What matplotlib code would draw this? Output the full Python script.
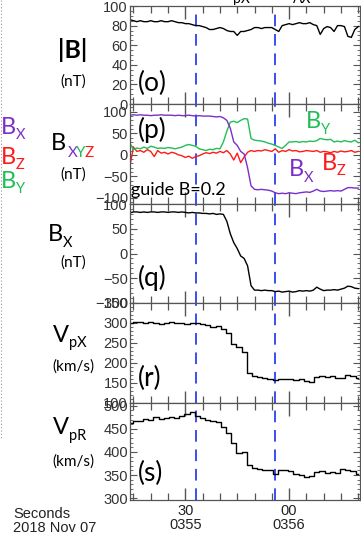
import numpy as np
import matplotlib
matplotlib.use("Agg")
import matplotlib.pyplot as plt
from matplotlib.ticker import MultipleLocator, FixedLocator
from matplotlib.lines import Line2D

# time in seconds after 03:55:00 UT
t_mag = np.arange(14, 81)

b_tot = [86, 85, 84, 85, 84, 84, 85, 84, 84, 85, 84, 84, 85, 84, 83, 83, 82, 82, 81, 80,
         80, 79, 78, 76, 76, 77, 78, 77, 75, 74, 74, 70, 74, 74, 75, 76, 78, 78, 77, 78,
         78, 78, 76, 74, 80, 81, 82, 81, 82, 83, 82, 82, 83, 81, 80, 71, 77, 79, 78, 74,
         80, 80, 79, 69, 68, 76, 79]

bx_p = [92, 93, 92, 93, 92, 92, 91, 92, 92, 93, 92, 92, 92, 91, 92, 91, 91, 92, 91, 90,
        91, 90, 90, 90, 89, 88, 89, 86, 80, 62, 30, 22, 8, 2, -30, -72, -80, -81, -80, -81,
        -82, -84, -88, -90, -89, -90, -88, -89, -90, -88, -87, -86, -87, -84, -80, -84, -85, -84,
        -83, -84, -83, -84, -80, -76, -76, -77, -77]

by_p = [27, 12, 16, 14, 18, 15, 20, 18, 15, 16, 15, 17, 16, 14, 16, 18, 22, 24, 22, 20,
        14, 12, 10, 13, 12, 15, 14, 30, 55, 76, 78, 75, 80, 84, 83, 38, 34, 33, 32, 30,
        27, 25, 22, 18, 15, 22, 30, 30, 31, 29, 31, 30, 32, 31, 33, 38, 36, 35, 36, 30,
        32, 30, 33, 31, 30, 34, 28]

bz_p = [-25, 18, 8, 10, 6, 12, 8, -4, 10, 4, 6, 2, 6, 4, 0, -2, -6, -3, -8, -4,
        -2, 2, 5, 3, 6, 4, 8, 5, 10, 2, -12, 4, -18, -5, 6, 10, 8, 10, 9, 12,
        10, 8, 14, 6, 10, 8, 12, 9, 10, 7, 8, 10, 9, 8, 10, 6, 8, 7, 5, 8,
        6, 9, 7, 8, 10, 6, 8]

bx_q = [82, 84, 84, 83, 84, 83, 84, 84, 83, 84, 84, 83, 84, 84, 83, 84, 83, 82, 83, 82,
        82, 81, 81, 80, 81, 79, 80, 79, 65, 40, 22, 10, -5, -10, -25, -65, -74, -74, -75, -74,
        -75, -75, -77, -76, -78, -77, -76, -78, -77, -75, -76, -75, -76, -74, -68, -72, -75, -74,
        -74, -73, -74, -72, -70, -66, -67, -70, -71]

# ion moments, 1.5 s cadence
t_ion = np.arange(14.0, 80.1, 1.5)

vpx = [301, 303, 302, 300, 302, 299, 297, 300, 302, 299, 300, 298, 301, 300, 298, 296,
       290, 293, 285, 275, 248, 240, 228, 175, 168, 166, 163, 160, 157, 160, 159, 161,
       158, 160, 155, 153, 166, 168, 166, 168, 162, 162, 171, 167, 163]

vpr = [462, 466, 467, 471, 470, 475, 472, 474, 476, 473, 478, 482, 486, 478, 474, 470,
       466, 464, 455, 440, 420, 398, 400, 372, 366, 364, 362, 360, 353, 360, 362, 358,
       352, 350, 345, 348, 356, 358, 354, 357, 355, 363, 362, 358, 353]

dash_times = [33.2, 56.0]

PURPLE = "#7a2fc8"
RED = "#ff1a1a"
GREEN = "#1fbf55"
DASH = "#3a4ff0"

W, H = 361, 541
fig = plt.figure(figsize=(W / 100, H / 100), dpi=100)
plt.rcParams["font.family"] = ["Liberation Sans", "DejaVu Sans"]
LAB = ["Lato", "DejaVu Sans"]


def fx(x):
    return x / W


def fy(y):
    return 1 - y / H


edges = [6, 104, 204, 303, 403, 500]
left, right = 130, 360
axes = []
for i in range(5):
    ax = fig.add_axes([fx(left), fy(edges[i + 1]), fx(right - left),
                       (edges[i + 1] - edges[i]) / H])
    ax.set_xlim(14, 80.5)
    ax.xaxis.set_major_locator(FixedLocator([30, 60]))
    ax.xaxis.set_minor_locator(MultipleLocator(5))
    ax.tick_params(axis="both", which="both", direction="in", top=True, right=True,
                   colors="#555555", labelcolor="#333333", labelsize=10.5, pad=1.5)
    ax.tick_params(axis="x", which="major", length=9, width=1.0)
    ax.tick_params(axis="x", which="minor", length=5, width=0.9)
    ax.tick_params(axis="y", which="major", length=5, width=0.8)
    ax.tick_params(axis="y", which="minor", length=2.5, width=0.6)
    for s in ax.spines.values():
        s.set_color("#555555")
        s.set_linewidth(0.9)
    if i < 4:
        ax.set_xticklabels([])
    for td in dash_times:
        ax.axvline(td, color=DASH, lw=1.4, dashes=(6, 4))
    axes.append(ax)

ax_o, ax_p, ax_q, ax_r, ax_s = axes

ax_o.plot(t_mag, b_tot, color="black", lw=1.0)
ax_o.set_ylim(0, 100)
ax_o.yaxis.set_major_locator(MultipleLocator(20))
ax_o.yaxis.set_minor_locator(MultipleLocator(5))

ax_p.plot(t_mag, bz_p, color=RED, lw=1.0)
ax_p.plot(t_mag, by_p, color=GREEN, lw=1.0)
ax_p.plot(t_mag, bx_p, color=PURPLE, lw=1.0)
ax_p.set_ylim(-114, 118)
ax_p.yaxis.set_major_locator(MultipleLocator(50))
ax_p.yaxis.set_minor_locator(MultipleLocator(10))

ax_q.plot(t_mag, bx_q, color="black", lw=1.0)
ax_q.set_ylim(-100, 100)
ax_q.yaxis.set_major_locator(MultipleLocator(50))
ax_q.yaxis.set_minor_locator(MultipleLocator(10))

ax_r.step(t_ion, vpx, where="mid", color="black", lw=1.0)
ax_r.set_ylim(100, 350)
ax_r.yaxis.set_major_locator(MultipleLocator(50))
ax_r.yaxis.set_minor_locator(MultipleLocator(10))

ax_s.step(t_ion, vpr, where="mid", color="black", lw=1.0)
ax_s.set_ylim(296, 506)
ax_s.yaxis.set_major_locator(MultipleLocator(50))
ax_s.yaxis.set_minor_locator(MultipleLocator(10))
ax_s.set_xticklabels(["30\n0355", "00\n0356"], linespacing=1.0, color="#222222")
ax_s.tick_params(axis="x", pad=3)

fig.text(fx(13), fy(521), "Seconds\n2018 Nov 07", fontsize=10.5, color="#222222",
         ha="left", va="center", linespacing=1.0)


def label(x, y, main, sub="", size=17, color="black", sub_color=None, bold=False):
    t = fig.text(fx(x), fy(y), main, fontsize=size, color=color, family=LAB,
                 ha="left", va="center", fontweight="bold" if bold else "normal")
    if sub:
        fig.canvas.draw()
        bb = t.get_window_extent()
        fig.text(bb.x1 / W / (fig.dpi / 100), fy(y + 8), sub, fontsize=size * 0.62,
                 color=sub_color or color, family=LAB, ha="left", va="center")


def center(x, y, s, size=11, color="black", bold=False):
    fig.text(fx(x), fy(y), s, fontsize=size, color=color, family=LAB, ha="center",
             va="center", fontweight="bold" if bold else "normal")


# panel (o)
center(73, 50, "|B|", size=18, bold=True)
center(73, 82, "(nT)")
label(138, 83, "(o)", size=19)

# panel (p)
t = fig.text(fx(51), fy(143), "B", fontsize=17, family=LAB, ha="left", va="center")
xs = 68
for ch, c in zip("XYZ", [PURPLE, GREEN, RED]):
    fig.text(fx(xs), fy(153), ch, fontsize=11, color=c, family=LAB, ha="left", va="center")
    xs += 8.2
center(73, 175, "(nT)")
label(138, 130, "(p)", size=19)
label(131, 190, "guide B=0.2", size=13)
label(306, 122, "B", "Y", color=GREEN)
label(289, 170, "B", "X", color=PURPLE)
label(322, 163, "B", "Z", color=RED)

# colour key at the left edge
label(1, 127, "B", "X", color=PURPLE)
label(1, 157, "B", "Z", color=RED)
label(1, 181, "B", "Y", color=GREEN)

# panel (q)
label(48, 235, "B", "X")
center(73, 263, "(nT)")
label(138, 278, "(q)", size=19)

# panel (r)
label(53, 335, "V", "pX")
center(73, 367, "(km/s)")
label(138, 378, "(r)", size=19)

# panel (s)
label(53, 428, "V", "pR")
center(73, 462, "(km/s)")
label(138, 473, "(s)", size=19)

# title text running off the top edge
fig.text(fx(233), fy(-1), "pX", fontsize=10, family=LAB, ha="left", va="center")
fig.text(fx(293), fy(-1), "AX", fontsize=10, family=LAB, ha="left", va="center")

fig.add_artist(Line2D([fx(0.8), fx(0.8)], [fy(0), fy(440)], color="#999999", lw=0.8,
                      ls=(0, (1, 2)), transform=fig.transFigure))

fig.savefig("out.png", dpi=100)
